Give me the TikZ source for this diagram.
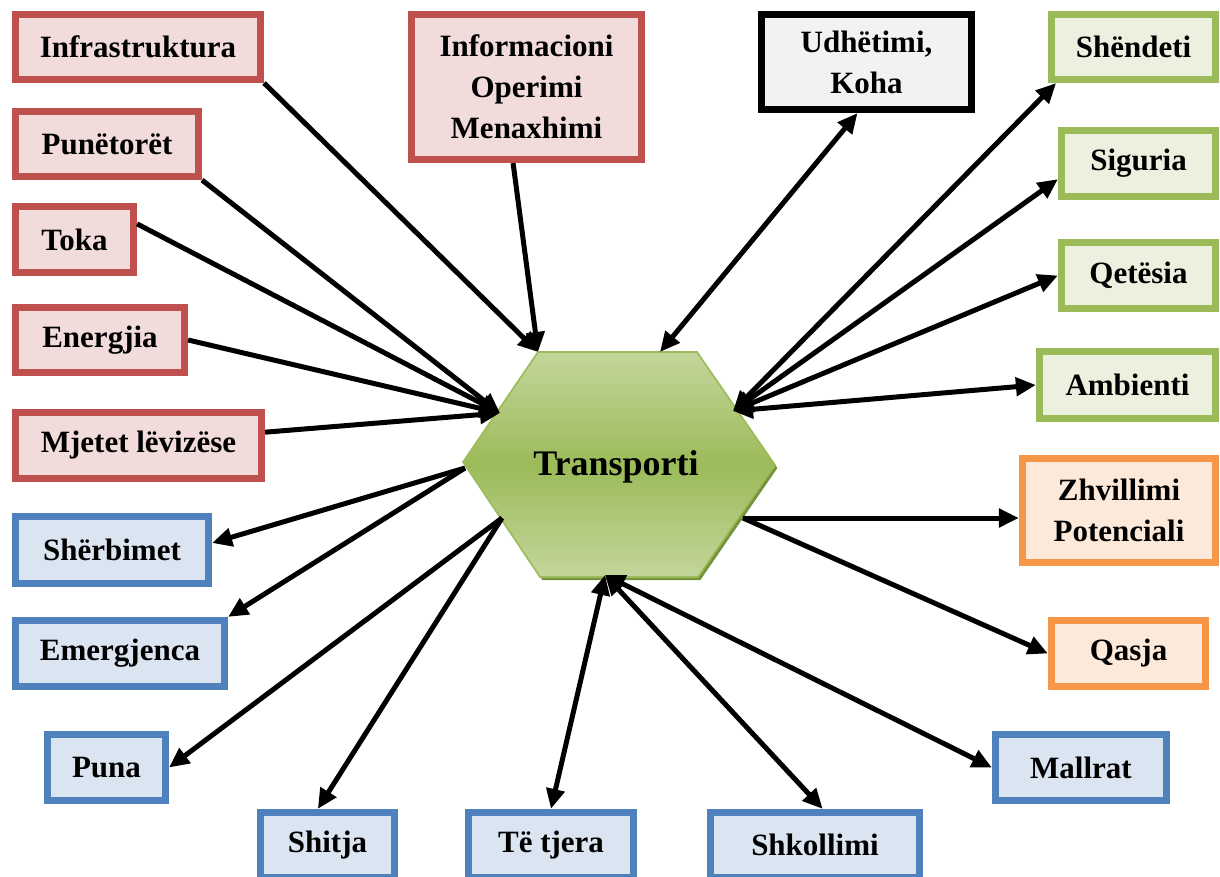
\documentclass[tikz,border=0pt]{standalone}
\usepackage{fontspec}
\setmainfont{Liberation Serif}
\usepackage{tikz}
\usetikzlibrary{arrows.meta, positioning}
\definecolor{kuqVija}{HTML}{C0504D}
\definecolor{kuqMbush}{HTML}{F2DCDB}
\definecolor{bluVija}{HTML}{4F81BD}
\definecolor{bluMbush}{HTML}{DBE5F1}
\definecolor{jeshVija}{HTML}{9BBB59}
\definecolor{jeshMbush}{HTML}{EBF1DE}
\definecolor{portVija}{HTML}{F79646}
\definecolor{portMbush}{HTML}{FDE9D9}
\definecolor{hiriMbush}{HTML}{F2F2F2}
\definecolor{hexDrite}{HTML}{C3D69B}
\definecolor{hexMes}{HTML}{9BBB59}
\definecolor{hexHije}{HTML}{76923C}
\tikzstyle{kuti} = [draw, line width=3.6pt, inner sep=0pt, align=center, font=\bfseries\fontsize{15.5}{20.5}\selectfont]
\tikzstyle{kuqe} = [kuti, draw=kuqVija, fill=kuqMbush]
\tikzstyle{blu} = [kuti, draw=bluVija, fill=bluMbush]
\tikzstyle{jeshile} = [kuti, draw=jeshVija, fill=jeshMbush]
\tikzstyle{portokalli} = [kuti, draw=portVija, fill=portMbush]
\tikzstyle{zeze} = [kuti, draw=black, fill=hiriMbush]
\tikzstyle{shigjete} = [line width=2.5pt, -{Triangle[length=10pt,width=9pt]}]
\tikzstyle{dyshe} = [line width=2.5pt, {Triangle[length=10pt,width=9pt]}-{Triangle[length=10pt,width=9pt]}]

\begin{document}
\begin{tikzpicture}[x=0.5pt, y=-0.5pt]
	\useasboundingbox (0,0) rectangle (1220,877);
	% gjashtekendeshi ne qender
	\fill[hexHije, xshift=1.2pt, yshift=-1.5pt] (538,352) -- (697,352) -- (775,465) -- (698,577) -- (540,577) -- (463,462) -- cycle;
	\draw[draw=jeshVija, line width=0.8pt, top color=hexDrite, bottom color=hexDrite, middle color=hexMes] (538,352) -- (697,352) -- (775,465) -- (698,577) -- (540,577) -- (463,462) -- cycle;
	\node[font=\bfseries\fontsize{18}{20}\selectfont] (trans) at (616,467) {Transporti};
	\coordinate (hLartMajtas) at (538,352);
	\coordinate (hLart) at (660,352);
	\coordinate (hMajtas) at (500,413);
	\coordinate (hDjathtas) at (733,411);
	\coordinate (hDjathtasPosht) at (743,518);
	\coordinate (hPosht) at (605,575);
	\coordinate (hMajtasPosht) at (465,468);
	\coordinate (hMajtasPosht2) at (502,518);
	% hyrjet
	\node[kuqe, minimum width=122.5pt, minimum height=32.5pt] (infra) at (138,47) {Infrastruktura};
	\node[kuqe, minimum width=115pt, minimum height=72.5pt] (info) at (526.5,87) {Informacioni\\Operimi\\Menaxhimi};
	\node[kuqe, minimum width=91.5pt, minimum height=32.5pt] (punet) at (107,144) {Punëtorët};
	\node[kuqe, minimum width=59pt, minimum height=33pt] (toka) at (74.5,239.5) {Toka};
	\node[kuqe, minimum width=84.5pt, minimum height=32.5pt] (energ) at (100,340) {Energjia};
	\node[kuqe, minimum width=123pt, minimum height=33pt] (mjetet) at (138.5,445.5) {Mjetet lëvizëse};
	\node[zeze, minimum width=105pt, minimum height=47.5pt] (udh) at (866.5,62) {Udhëtimi,\\Koha};
	% ndikimet
	\node[jeshile, minimum width=82pt, minimum height=32.5pt] (shend) at (1133.5,47) {Shëndeti};
	\node[jeshile, minimum width=77pt, minimum height=33pt] (sig) at (1138.5,163.5) {Siguria};
	\node[jeshile, minimum width=77pt, minimum height=33pt] (qet) at (1138.5,275.5) {Qetësia};
	\node[jeshile, minimum width=88pt, minimum height=33.5pt] (amb) at (1127.5,385) {Ambienti};
	\node[portokalli, minimum width=96.5pt, minimum height=52pt] (zhv) at (1119,510.5) {Zhvillimi\\Potenciali};
	\node[portokalli, minimum width=77pt, minimum height=33pt] (qasja) at (1128.5,653.5) {Qasja};
	\node[blu, minimum width=85.5pt, minimum height=33pt] (mallrat) at (1081,767.5) {Mallrat};
	\node[blu, minimum width=104.5pt, minimum height=32.5pt] (shk) at (815,845) {Shkollimi};
	\node[blu, minimum width=82.5pt, minimum height=32.5pt] (tjera) at (551,845) {Të tjera};
	\node[blu, minimum width=67pt, minimum height=32.5pt] (shitja) at (327.5,845) {Shitja};
	\node[blu, minimum width=59pt, minimum height=33pt] (puna) at (106.5,767.5) {Puna};
	\node[blu, minimum width=104.5pt, minimum height=33pt] (emerg) at (120,653.5) {Emergjenca};
	\node[blu, minimum width=96.5pt, minimum height=33.5pt] (sherb) at (112,550) {Shërbimet};
	% shigjetat
	\draw[shigjete] (infra.south east) -- (hLartMajtas);
	\draw[shigjete] (info.260) -- (hLartMajtas);
	\draw[shigjete] (punet.south east) -- (hMajtas);
	\draw[shigjete] (toka.14) -- (hMajtas);
	\draw[shigjete] (energ.east) -- (hMajtas);
	\draw[shigjete] (mjetet.6) -- (hMajtas);
	\draw[dyshe] (hLart) -- (udh.260);
	\draw[dyshe] (hDjathtas) -- (shend.205);
	\draw[dyshe] (hDjathtas) -- (sig.191);
	\draw[dyshe] (hDjathtas) -- (qet.west);
	\draw[dyshe] (hDjathtas) -- (amb.west);
	\draw[shigjete] (hDjathtasPosht) -- (hDjathtasPosht -| zhv.west);
	\draw[shigjete] (hDjathtasPosht) -- (qasja.west);
	\draw[dyshe] (hPosht) -- (mallrat.west);
	\draw[dyshe] (hPosht) -- (shk.78);
	\draw[dyshe] (hPosht) -- (tjera.north);
	\draw[shigjete] (hMajtasPosht) -- (sherb.4);
	\draw[shigjete] (hMajtasPosht) -- (emerg.north east);
	\draw[shigjete] (hMajtasPosht2) -- (puna.east);
	\draw[shigjete] (hMajtasPosht2) -- (shitja.105);
\end{tikzpicture}
\end{document}
